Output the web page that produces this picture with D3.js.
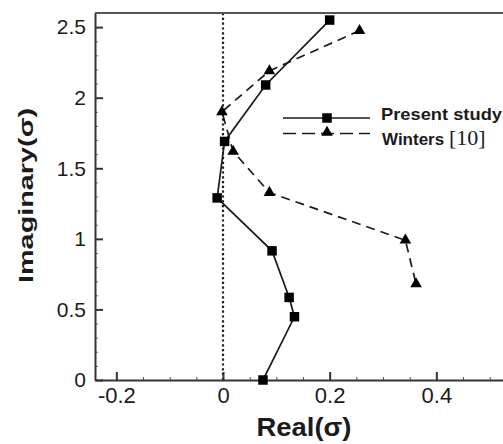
<!DOCTYPE html>
<html><head><meta charset="utf-8">
<script src="https://cdn.jsdelivr.net/npm/d3@7"></script>
<style>
html,body{margin:0;padding:0;background:#fff;}
svg{display:block;font-family:"Liberation Sans",Arial,sans-serif;}
</style></head>
<body><svg id="c" width="503" height="444"></svg>
<script>
// Data
const presentReal = [0.2, 0.08, 0.003, -0.011, 0.092, 0.124, 0.134, 0.075];
const presentImag = [2.55, 2.09, 1.69, 1.29, 0.915, 0.585, 0.448, 0.0];
const wintersReal = [0.256, 0.087, -0.002, 0.019, 0.087, 0.342, 0.362];
const wintersImag = [2.475, 2.19, 1.9, 1.62, 1.328, 0.99, 0.68];
const xTicks = [-0.2, 0, 0.2, 0.4];
const xTickLabels = ["-0.2", "0", "0.2", "0.4"];
const yTicks = [0, 0.5, 1, 1.5, 2, 2.5];
const yTickLabels = ["0", "0.5", "1", "1.5", "2", "2.5"];
const seriesNames = ["Present study", "Winters "];

const svg = d3.select("#c");
const W = 503, H = 444;
const x = d3.scaleLinear().domain([-0.24, 0.525]).range([95, 503]);
const y = d3.scaleLinear().domain([0, 2.6]).range([380, 13]);
const ink = "#1b1b1b";

// zero dotted line
svg.append("line")
  .attr("x1", x(0)).attr("x2", x(0)).attr("y1", y(2.6)).attr("y2", y(0))
  .attr("stroke", ink).attr("stroke-width", 2.2).attr("stroke-dasharray", "2.2,2.6");

// minor ticks
const xMinor = d3.range(-0.2, 0.55, 0.05).map(v => +v.toFixed(2)).filter(v => !xTicks.includes(v));
const yMinor = d3.range(0.1, 2.6, 0.1).map(v => +v.toFixed(1)).filter(v => !yTicks.includes(v));
svg.append("g").attr("transform", `translate(0,${y(0)})`)
  .call(d3.axisBottom(x).tickValues(xMinor).tickSize(-3).tickFormat(""))
  .call(g => g.select(".domain").remove())
  .selectAll("line").attr("stroke", "#555").attr("stroke-width", 1);
svg.append("g").attr("transform", `translate(${x(-0.24)},0)`)
  .call(d3.axisLeft(y).tickValues(yMinor).tickSize(-3).tickFormat(""))
  .call(g => g.select(".domain").remove())
  .selectAll("line").attr("stroke", "#777").attr("stroke-width", 1);

// major axes
const xa = svg.append("g").attr("transform", `translate(0,${y(0)})`)
  .call(d3.axisBottom(x).tickValues(xTicks).tickSize(-8).tickSizeOuter(0).tickPadding(7)
    .tickFormat((d, i) => xTickLabels[i]));
xa.select(".domain").attr("stroke", "#333").attr("stroke-width", 2);
xa.selectAll(".tick line").attr("stroke", "#333").attr("stroke-width", 2);
xa.selectAll("text").attr("font-size", 22).attr("fill", ink).attr("font-family", "Liberation Sans, Arial, sans-serif");

const ya = svg.append("g").attr("transform", `translate(${x(-0.24)},0)`)
  .call(d3.axisLeft(y).tickValues(yTicks).tickSize(-8).tickSizeOuter(0).tickPadding(9)
    .tickFormat((d, i) => yTickLabels[i]));
ya.select(".domain").attr("stroke", "#333").attr("stroke-width", 2);
ya.selectAll(".tick line").attr("stroke", "#333").attr("stroke-width", 2);
ya.selectAll("text").attr("font-size", 21).attr("fill", ink).attr("font-family", "Liberation Sans, Arial, sans-serif");

// top border
svg.append("line").attr("x1", x(-0.24)).attr("x2", W).attr("y1", y(2.6)).attr("y2", y(2.6))
  .attr("stroke", "#555").attr("stroke-width", 2);

// series
const pData = presentReal.map((r, i) => [r, presentImag[i]]);
const wData = wintersReal.map((r, i) => [r, wintersImag[i]]);
const line = d3.line().x(d => x(d[0])).y(d => y(d[1]));

svg.append("path").datum(wData).attr("d", line).attr("fill", "none")
  .attr("stroke", ink).attr("stroke-width", 1.7).attr("stroke-dasharray", "9,6");
svg.append("path").datum(pData).attr("d", line).attr("fill", "none")
  .attr("stroke", ink).attr("stroke-width", 1.7);

const sq = d3.symbol().type(d3.symbolSquare).size(90);
const tri = d3.symbol().type(d3.symbolTriangle).size(58);
svg.selectAll(".sq").data(pData).enter().append("path")
  .attr("d", sq).attr("transform", d => `translate(${x(d[0])},${y(d[1])})`).attr("fill", "#000");
svg.selectAll(".tri").data(wData).enter().append("path")
  .attr("d", tri).attr("transform", d => `translate(${x(d[0])},${y(d[1])})`).attr("fill", "#000");

// legend
const lg = svg.append("g");
lg.append("line").attr("x1", 283).attr("x2", 370).attr("y1", 118).attr("y2", 118)
  .attr("stroke", ink).attr("stroke-width", 1.7);
lg.append("path").attr("d", sq).attr("transform", "translate(327,118)").attr("fill", "#000");
lg.append("line").attr("x1", 283).attr("x2", 370).attr("y1", 133.5).attr("y2", 133.5)
  .attr("stroke", ink).attr("stroke-width", 1.7).attr("stroke-dasharray", "13,6");
lg.append("path").attr("d", tri).attr("transform", "translate(327,132.5)").attr("fill", "#000");
lg.append("text").attr("x", 381).attr("y", 120).attr("font-size", 17).attr("font-weight", "bold")
  .attr("fill", ink).attr("textLength", 121).attr("lengthAdjust", "spacingAndGlyphs").text(seriesNames[0]);
const wt = lg.append("text").attr("x", 382).attr("y", 144.5).attr("fill", ink);
wt.append("tspan").attr("font-size", 17).attr("font-weight", "bold").text(seriesNames[1]);
wt.append("tspan").attr("font-size", 22).attr("font-family", "Liberation Serif, Times New Roman, serif").text("[10]");

// axis titles
svg.append("text").attr("x", 304).attr("y", 436).attr("text-anchor", "middle")
  .attr("font-size", 26).attr("font-weight", "bold").attr("fill", ink)
  .attr("textLength", 95).attr("lengthAdjust", "spacingAndGlyphs").text("Real(σ)");
svg.append("text").attr("transform", "translate(33,195.5) rotate(-90)").attr("text-anchor", "middle")
  .attr("font-size", 20).attr("font-weight", "bold").attr("fill", ink)
  .attr("textLength", 175).attr("lengthAdjust", "spacingAndGlyphs").text("Imaginary(σ)");
</script></body></html>
